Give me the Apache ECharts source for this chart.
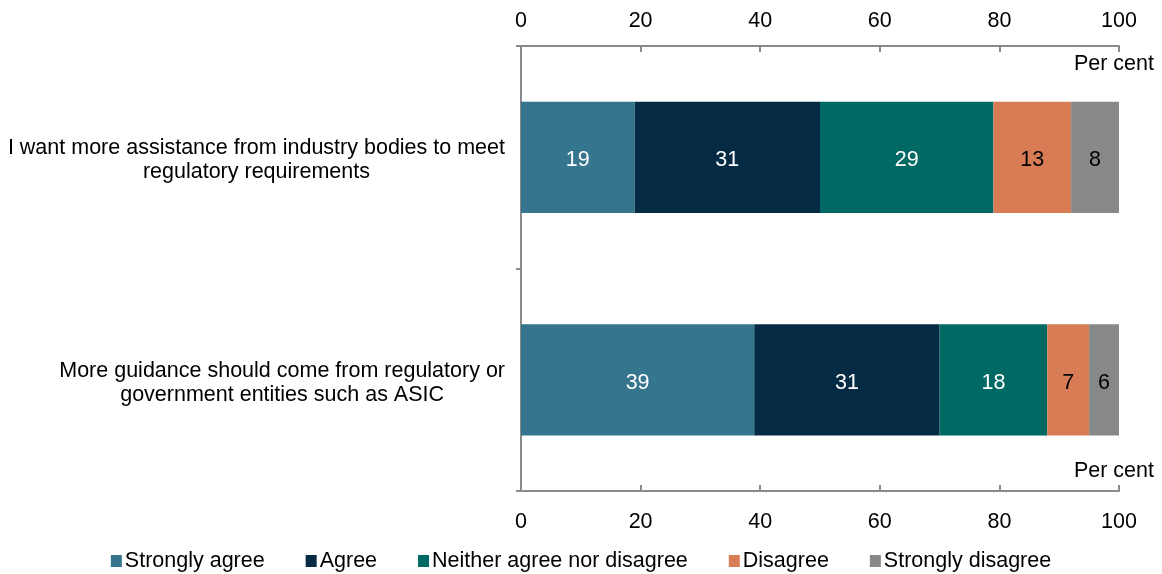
<!DOCTYPE html>
<html>
<head>
<meta charset="utf-8">
<script src="https://cdn.jsdelivr.net/npm/echarts@6/dist/echarts.min.js"></script>
<style>
html,body{margin:0;padding:0;background:#fff;}
#chart{width:1162px;height:574px;}
</style>
</head>
<body>
<div id="chart"></div>
<script>
const categories = [
  "I want more assistance from industry bodies to meet\nregulatory requirements",
  "More guidance should come from regulatory or\ngovernment entities such as ASIC"
];
const seriesNames = ["Strongly agree", "Agree", "Neither agree nor disagree", "Disagree", "Strongly disagree"];
const stronglyAgree = [19, 39];
const agree = [31, 31];
const neither = [29, 18];
const disagree = [13, 7];
const stronglyDisagree = [8, 6];
const axisTicks = [0, 20, 40, 60, 80, 100];
const unitLabel = "Per cent";

const colors = ["#35758D", "#052B44", "#006963", "#D77C55", "#87888A"];
const labelColors = ["#ffffff", "#ffffff", "#ffffff", "#000000", "#000000"];
const values = [stronglyAgree, agree, neither, disagree, stronglyDisagree];
const FONT = "'Liberation Sans', Arial, sans-serif";
const FS = 21.5;
const axisGray = "#8a8a8a";

const chart = echarts.init(document.getElementById('chart'));

function xAxisDef(pos, margin) {
  return {
    type: 'value',
    position: pos,
    min: axisTicks[0],
    max: axisTicks[axisTicks.length - 1],
    interval: axisTicks[1] - axisTicks[0],
    axisLine: { show: true, lineStyle: { color: axisGray, width: 2 } },
    axisTick: { show: true, inside: true, length: 6, lineStyle: { color: axisGray, width: 2 } },
    splitLine: { show: false },
    axisLabel: { color: '#000', fontSize: FS, fontFamily: FONT, margin: margin }
  };
}

chart.setOption({
  animation: false,
  grid: { left: 521, right: 43, top: 46, bottom: 83, containLabel: false },
  xAxis: [ xAxisDef('top', 14), xAxisDef('bottom', 20) ],
  yAxis: {
    type: 'category',
    inverse: true,
    data: categories,
    axisLine: { show: true, lineStyle: { color: axisGray, width: 2 } },
    axisTick: { show: true, length: 5, lineStyle: { color: axisGray, width: 2 } },
    axisLabel: {
      margin: 16,
      color: '#000',
      fontSize: FS,
      fontFamily: FONT,
      lineHeight: 24,
      align: 'right',
      padding: [6, 0, 0, 0],
      formatter: function (v) {
        return v.split('\n').map(function (l) { return '{c|' + l + '}'; }).join('\n');
      },
      rich: { c: { align: 'center', fontSize: FS, fontFamily: FONT, color: '#000', lineHeight: 24 } }
    }
  },
  legend: {
    top: 545,
    left: 'center',
    itemWidth: 11,
    itemHeight: 12,
    itemGap: 41,
    icon: 'rect',
    textStyle: { color: '#000', fontSize: FS, fontFamily: FONT, padding: [0, 0, 0, -2] },
    data: seriesNames
  },
  graphic: [
    { type: 'text', right: 8, top: 53, style: { text: unitLabel, font: FS + "px " + FONT, fill: '#000' } },
    { type: 'text', right: 8, top: 460, style: { text: unitLabel, font: FS + "px " + FONT, fill: '#000' } }
  ],
  series: seriesNames.map(function (name, i) {
    return {
      name: name,
      type: 'bar',
      stack: 'total',
      xAxisIndex: 0,
      barCategoryGap: '50%',
      itemStyle: { color: colors[i] },
      label: {
        show: true,
        position: 'inside',
        offset: [0, 3],
        color: labelColors[i],
        fontSize: FS,
        fontFamily: FONT
      },
      data: values[i]
    };
  })
});
</script>
</body>
</html>
